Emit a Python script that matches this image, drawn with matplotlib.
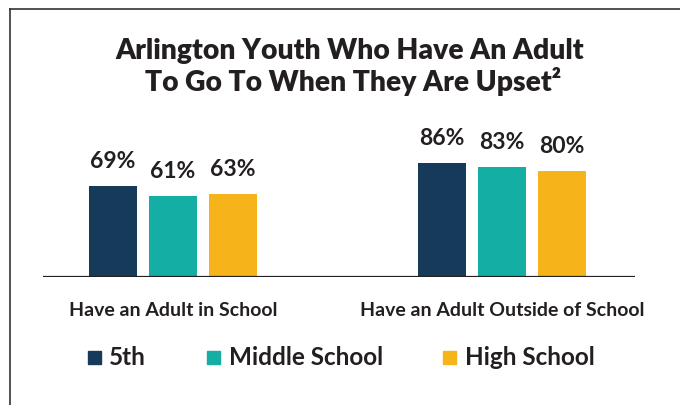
import matplotlib
matplotlib.use("Agg")
import matplotlib.pyplot as plt
from matplotlib.patches import Rectangle
from matplotlib.lines import Line2D

plt.rcParams['font.family'] = ['Lato', 'DejaVu Sans']

# Data
categories = ["Have an Adult in School", "Have an Adult Outside of School"]
series_names = ["5th", "Middle School", "High School"]
values_5th = [69, 86]
values_middle = [61, 83]
values_high = [63, 80]
series_values = [values_5th, values_middle, values_high]
colors = ["#163a59", "#14aea5", "#f6b41a"]
text_color = "#231f20"

W, H = 680, 405
fig = plt.figure(figsize=(W / 100, H / 100), dpi=100)
fig.patch.set_facecolor("white")

# Axes placed in pixel units
ax_left, ax_right, ax_base, ax_h = 43, 635, 277, 132
ax = fig.add_axes([ax_left / W, (H - ax_base) / H, (ax_right - ax_left) / W, ax_h / H])
ax.set_xlim(-0.395, 1.404)
ax.set_ylim(0, 100)

pitch = 0.1824
width = 0.146
xs = [0, 1]
for i, (vals, col) in enumerate(zip(series_values, colors)):
    pos = [x + (i - 1) * pitch for x in xs]
    ax.bar(pos, vals, width=width, color=col, zorder=2)
    for p, v in zip(pos, vals):
        ax.annotate(f"{v}%", (p, v), xytext=(0, 13), textcoords="offset points",
                    ha="center", va="baseline", fontsize=16.5, fontweight="bold",
                    color=text_color, annotation_clip=False)

for s in ax.spines.values():
    s.set_visible(False)
ax.axhline(0, color=text_color, lw=1.6, zorder=3)
ax.set_yticks([])
ax.set_xticks(xs)
ax.set_xticklabels(categories, fontsize=14, fontweight="bold", color=text_color)
ax.tick_params(axis="x", length=0, pad=18)

# Title
fig.text(350 / W, 1 - 59 / H, "Arlington Youth Who Have An Adult", ha="center",
         va="baseline", fontsize=20.3, fontweight="heavy", color=text_color)
fig.text(353 / W, 1 - 91 / H, "To Go To When They Are Upset\u00b2", ha="center",
         va="baseline", fontsize=20.3, fontweight="heavy", color=text_color)

# Legend
sq_x = [88, 207, 443]
tx_x = [109, 229, 465]
for name, col, sx, tx in zip(series_names, colors, sq_x, tx_x):
    fig.add_artist(Rectangle((sx / W, 1 - 364 / H), 13 / W, 13 / H,
                             transform=fig.transFigure, color=col))
    fig.text(tx / W, 1 - 365 / H, name, ha="left", va="baseline", fontsize=17.5,
             fontweight="bold", color=text_color)

# Frame lines
fig.add_artist(Line2D([10 / W, 1], [1 - 9 / H, 1 - 9 / H], transform=fig.transFigure,
                      color="#333333", lw=1.2))
fig.add_artist(Line2D([10 / W, 10 / W], [0, 1 - 9 / H], transform=fig.transFigure,
                      color="#333333", lw=1.2))

fig.savefig("out.png", dpi=100, facecolor="white")
